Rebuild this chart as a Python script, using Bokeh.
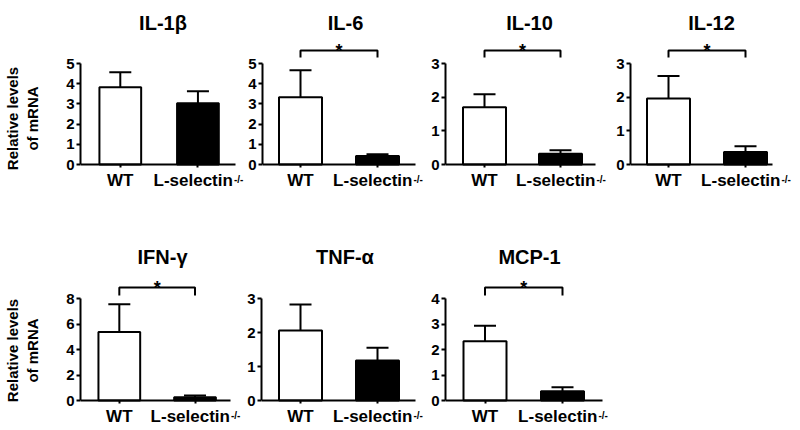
from bokeh.plotting import figure
from bokeh.layouts import column, row
from bokeh.models import Range1d, FixedTicker, ColumnDataSource, Whisker, TeeHead
from bokeh.core.properties import value
from bokeh.embed import file_html
from bokeh.resources import INLINE

# ---------------- data ----------------
titles = ["IL-1β", "IL-6", "IL-10", "IL-12", "IFN-γ", "TNF-α", "MCP-1"]
groups = ["WT", "L-selectin"]
group_sup = ["", "-/-"]
group_x = [1, 2]
wt_mean = [3.83, 3.33, 1.70, 1.96, 5.38, 2.06, 2.32]
wt_sem = [0.74, 1.34, 0.39, 0.67, 2.16, 0.76, 0.61]
ko_mean = [3.03, 0.42, 0.32, 0.37, 0.26, 1.18, 0.36]
ko_sem = [0.60, 0.09, 0.10, 0.17, 0.13, 0.37, 0.16]
significant = [False, True, True, True, True, False, True]
y_max = [5, 5, 3, 3, 8, 3, 4]
y_ticks = [[0, 1, 2, 3, 4, 5], [0, 1, 2, 3, 4, 5], [0, 1, 2, 3], [0, 1, 2, 3],
           [0, 2, 4, 6, 8], [0, 1, 2, 3], [0, 1, 2, 3, 4]]
y_label = "Relative levels\nof mRNA"

# ---------------- layout (pixels) ----------------
fig_w = [245, 183, 185, 179, 244, 184, 185]
border_l = [75, 17, 17, 17, 75, 17, 17]
axis_w = [160, 153, 150, 142, 155, 154, 157]
wt_off = [41, 38, 39, 38, 40, 39, 39.5]
spacing = [80, 77, 76, 77, 78, 77, 77.5]

FONT = "Liberation Sans"


def make_panel(i):
    top_row = i < 4
    if top_row:
        fig_h, b_top, b_bot, zero_up, ymax_px, br_px, leg_px = 236, 36, 36, 36, 101, 13, 6
    else:
        fig_h, b_top, b_bot, zero_up, ymax_px, br_px, leg_px = 194, 34, 0, 30, 102, 11, 3
    frame_h = fig_h - b_top - b_bot
    frame_w = fig_w[i] - border_l[i]
    ext = frame_w - axis_w[i]
    ymax = y_max[i]
    per_px = ymax / ymax_px
    sp = spacing[i]
    x0 = group_x[0] - wt_off[i] / sp
    p = figure(width=fig_w[i], height=fig_h,
               x_range=Range1d(x0, x0 + frame_w / sp),
               y_range=Range1d(-zero_up * per_px, (frame_h - zero_up) * per_px),
               output_backend="svg", toolbar_location=None,
               min_border_left=border_l[i], min_border_right=0,
               min_border_top=b_top, min_border_bottom=b_bot)
    p.outline_line_color = None
    p.xgrid.visible = False
    p.ygrid.visible = False
    p.background_fill_color = "white"
    p.border_fill_color = "white"

    p.title.text = titles[i]
    p.title.align = "center"
    p.title.offset = -ext / 2
    p.title.text_font = FONT
    p.title.text_font_style = "bold"
    p.title.text_font_size = "20px"
    p.title.text_color = "black"
    p.title.standoff = 5

    src = ColumnDataSource(dict(
        x=group_x,
        mean=[wt_mean[i], ko_mean[i]],
        upper=[wt_mean[i] + wt_sem[i], ko_mean[i] + ko_sem[i]],
        fill=["white", "black"],
    ))
    p.vbar(x="x", top="mean", width=43 / sp, source=src, fill_color="fill",
           line_color="black", line_width=2)
    wh = Whisker(base="x", lower="mean", upper="upper", source=src,
                 line_color="black", line_width=2,
                 upper_head=TeeHead(size=22, line_width=2, line_color="black"),
                 lower_head=None)
    p.add_layout(wh)

    if significant[i]:
        yb = ymax + br_px * per_px
        yl = ymax + leg_px * per_px
        xa, xb = group_x
        p.line(x=[xa, xa, xb, xb], y=[yl, yb, yb, yl], line_color="black", line_width=2)
        p.text(x=[(xa + xb) / 2], y=[yb], text=["*"], text_font=value(FONT),
               text_font_style="bold", text_font_size="18px", text_align="center",
               text_baseline="alphabetic", y_offset=0)

    # x axis, drawn at y = 0 inside the frame
    xax = p.xaxis[0]
    xax.fixed_location = 0
    xax.bounds = (x0, x0 + axis_w[i] / sp)
    xax.ticker = FixedTicker(ticks=group_x)
    xax.major_label_overrides = {group_x[0]: groups[0],
                                 group_x[1]: groups[1] + "\u2007"}
    xax.major_label_text_font = FONT
    xax.major_label_text_font_style = "bold"
    xax.major_label_text_font_size = "17px"
    xax.major_label_text_color = "black"
    xax.major_label_standoff = 3
    xax.major_tick_out = 3
    xax.major_tick_in = 0
    xax.minor_tick_out = 0
    xax.minor_tick_in = 0
    xax.axis_line_width = 2
    xax.major_tick_line_width = 2

    # superscript of the knockout label
    p.text(x=[group_x[1]], y=[0], text=[group_sup[1]], text_font=value(FONT),
           text_font_style="bold", text_font_size="10px", text_align="left",
           text_baseline="alphabetic", x_offset=36, y_offset=14.5, text_color="black")

    # y axis
    ya = p.yaxis[0]
    ya.ticker = FixedTicker(ticks=y_ticks[i])
    ya.bounds = (0, ymax)
    ya.major_label_text_font = FONT
    ya.major_label_text_font_style = "bold"
    ya.major_label_text_font_size = "15px"
    ya.major_label_text_color = "black"
    ya.major_label_standoff = 2
    ya.major_tick_out = 4
    ya.major_tick_in = 0
    ya.minor_tick_out = 0
    ya.minor_tick_in = 0
    ya.axis_line_width = 2
    ya.major_tick_line_width = 2
    if i in (0, 4):
        ya.axis_label = y_label
        ya.axis_label_text_font = FONT
        ya.axis_label_text_font_style = "bold"
        ya.axis_label_text_font_size = "15px"
        ya.axis_label_text_color = "black"
        ya.axis_label_standoff = 22
    return p


panels = [make_panel(i) for i in range(7)]
layout = column(row(*panels[:4]), row(*panels[4:]))

with open("out.html", "w") as f:
    f.write(file_html(layout, INLINE))
